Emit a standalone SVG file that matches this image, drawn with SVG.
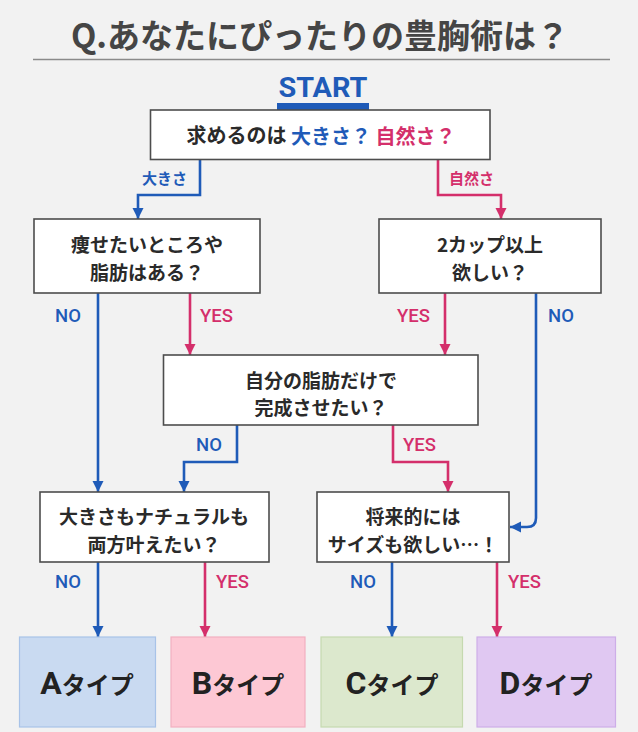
<svg xmlns="http://www.w3.org/2000/svg" width="638" height="732" viewBox="0 0 638 732">
<defs>
<marker id="ab" markerUnits="userSpaceOnUse" markerWidth="12" markerHeight="12" refX="11" refY="6" orient="auto"><path d="M0,0.5 L11,6 L0,11.5 z" fill="#1f5bb8"/></marker>
<marker id="ap" markerUnits="userSpaceOnUse" markerWidth="12" markerHeight="12" refX="11" refY="6" orient="auto"><path d="M0,0.5 L11,6 L0,11.5 z" fill="#d42f6b"/></marker>
<style>
.jp{font-family:"Noto Sans CJK JP","Noto Sans",sans-serif;font-weight:bold;fill:#2a2a2a}
.box{fill:#ffffff;stroke:#4d4d4d;stroke-width:1.6}
.q{font-size:19px;text-anchor:middle;dominant-baseline:central}
.lbl{font-family:Roboto,"Noto Sans CJK JP",sans-serif;font-weight:500;font-size:18.5px;dominant-baseline:central}
.sl{font-family:"Noto Sans CJK JP",sans-serif;font-weight:bold;font-size:15px;dominant-baseline:central}
.b{fill:#1f5bb8}
.p{fill:#d42f6b}
.cb{fill:none;stroke:#1f5bb8;stroke-width:2.6;marker-end:url(#ab)}
.cp{fill:none;stroke:#d42f6b;stroke-width:2.6;marker-end:url(#ap)}
.res{font-weight:bold;text-anchor:middle;fill:#222}
</style>
</defs>
<rect width="638" height="732" fill="#f2f2f2"/>
<g id="title">
<text x="320" y="34" class="jp" font-size="33" text-anchor="middle" dominant-baseline="central" style="fill:#454545">Q.あなたにぴったりの豊胸術は？</text>
<line x1="33" y1="59.5" x2="610" y2="59.5" stroke="#8a8a8a" stroke-width="1.5"/>
</g>
<g id="start">
<text x="323" y="97" font-family="Roboto,sans-serif" font-weight="bold" font-size="28" text-anchor="middle" fill="#1f5bb8" textLength="89" lengthAdjust="spacingAndGlyphs">START</text>
<rect x="277" y="103" width="92" height="7" fill="#1f5bb8"/>
</g>
<g id="connectors">
<path class="cb" d="M200,160 V195 H138 V219"/>
<path class="cp" d="M438,160 V195 H501 V219"/>
<path class="cb" d="M98,293 V492"/>
<path class="cp" d="M190,293 V355"/>
<path class="cp" d="M445,293 V355"/>
<path class="cb" d="M536,293 V518 Q536,527 527,527 H510"/>
<path class="cb" d="M237,425 V462 H184 V492"/>
<path class="cp" d="M393,425 V462 H448 V492"/>
<path class="cb" d="M98,562 V637"/>
<path class="cp" d="M205,562 V637"/>
<path class="cb" d="M392,562 V637"/>
<path class="cp" d="M497,562 V637"/>
<text class="sl b" x="142" y="177">大きさ</text>
<text class="sl p" x="449" y="177">自然さ</text>
<text class="lbl b" x="55" y="316">NO</text>
<text class="lbl p" x="200" y="316">YES</text>
<text class="lbl p" x="397" y="316">YES</text>
<text class="lbl b" x="548" y="316">NO</text>
<text class="lbl b" x="196" y="445">NO</text>
<text class="lbl p" x="403" y="445">YES</text>
<text class="lbl b" x="55" y="582">NO</text>
<text class="lbl p" x="216" y="582">YES</text>
<text class="lbl b" x="350" y="582">NO</text>
<text class="lbl p" x="508" y="582">YES</text>
</g>
<g id="q1">
<rect class="box" x="150.5" y="110" width="339.5" height="49.5"/>
<text class="jp q" x="321" y="134.5" font-size="20" style="font-size:20px" xml:space="preserve">求めるのは <tspan class="b">大きさ？</tspan> <tspan class="p">自然さ？</tspan></text>
</g>
<g id="q2">
<rect class="box" x="34" y="219" width="226" height="74"/>
<text class="jp q" x="147" y="243">痩せたいところや</text>
<text class="jp q" x="147" y="271">脂肪はある？</text>
</g>
<g id="q3">
<rect class="box" x="379" y="219" width="222" height="74"/>
<text class="jp q" x="490" y="243">2カップ以上</text>
<text class="jp q" x="490" y="271">欲しい？</text>
</g>
<g id="q4">
<rect class="box" x="163.5" y="355" width="314.5" height="70"/>
<text class="jp q" x="321" y="379">自分の脂肪だけで</text>
<text class="jp q" x="321" y="406">完成させたい？</text>
</g>
<g id="q5">
<rect class="box" x="40" y="492" width="229" height="70"/>
<text class="jp q" x="154" y="515">大きさもナチュラルも</text>
<text class="jp q" x="154" y="543">両方叶えたい？</text>
</g>
<g id="q6">
<rect class="box" x="317" y="492" width="192" height="70"/>
<text class="jp q" x="413" y="515">将来的には</text>
<text class="jp q" x="413" y="543">サイズも欲しい…！</text>
</g>
<g id="typeA">
<rect x="19.5" y="637" width="136" height="90" fill="#c9daf1" stroke="#a8c3e8" stroke-width="1.2"/>
<text class="jp res" x="87" y="694"><tspan font-family="Roboto,sans-serif" font-size="32">A</tspan><tspan font-size="24">タイプ</tspan></text>
</g>
<g id="typeB">
<rect x="171" y="637" width="134" height="90" fill="#fdc8d4" stroke="#f2b0c0" stroke-width="1.2"/>
<text class="jp res" x="238" y="694"><tspan font-family="Roboto,sans-serif" font-size="32">B</tspan><tspan font-size="24">タイプ</tspan></text>
</g>
<g id="typeC">
<rect x="321" y="637" width="141.5" height="90" fill="#dce8cd" stroke="#c5d9b0" stroke-width="1.2"/>
<text class="jp res" x="392" y="694"><tspan font-family="Roboto,sans-serif" font-size="32">C</tspan><tspan font-size="24">タイプ</tspan></text>
</g>
<g id="typeD">
<rect x="477" y="637" width="138.5" height="90" fill="#e0c8f2" stroke="#cdaee8" stroke-width="1.2"/>
<text class="jp res" x="546" y="694"><tspan font-family="Roboto,sans-serif" font-size="32">D</tspan><tspan font-size="24">タイプ</tspan></text>
</g>
</svg>
